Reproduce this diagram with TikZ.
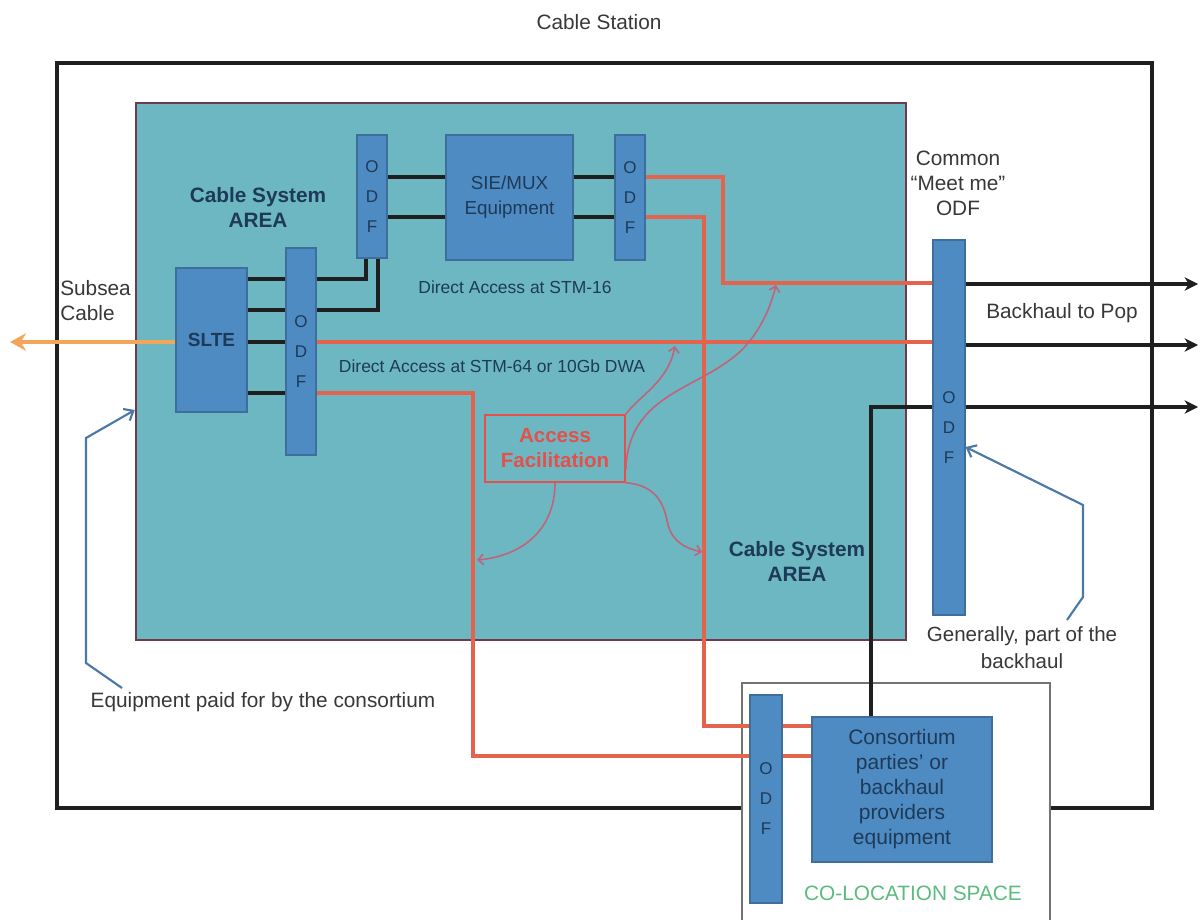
\documentclass[tikz,border=0pt]{standalone}
\usepackage{fontspec}
\setmainfont{Liberation Sans}
\usetikzlibrary{arrows.meta}
\definecolor{teal1}{HTML}{6DB7C3}
\definecolor{tealedge}{HTML}{6E3A4C}
\definecolor{boxblue}{HTML}{4E8BC2}
\definecolor{boxedge}{HTML}{3D6E9C}
\definecolor{navy}{HTML}{1E3A58}
\definecolor{redl}{HTML}{E4634C}
\definecolor{curvc}{HTML}{C0647A}
\definecolor{orng}{HTML}{F2A65A}
\definecolor{annob}{HTML}{4A78A8}
\definecolor{txtg}{HTML}{383838}
\definecolor{green1}{HTML}{5DBB7E}
\definecolor{afred}{HTML}{E4504A}
\begin{document}
\begin{tikzpicture}[x=0.75pt,y=-0.75pt,
  sz/.style 2 args={minimum width=#1*0.75pt,minimum height=#2*0.75pt},
  bluebox/.style={draw=boxedge,fill=boxblue,line width=0.9pt,inner sep=0pt,text=navy},
  odfbox/.style={bluebox,align=center,font=\fontsize{12.75}{22.5}\selectfont},
  blk/.style={draw=black!88,line width=2.8pt},
  redln/.style={draw=redl,line width=2.6pt},
  curv/.style={draw=curvc,line width=1.2pt,-{Straight Barb[length=4pt,width=8pt]}},
  anno/.style={draw=annob,line width=1.6pt,-{Straight Barb[length=6pt,width=10pt]}},
  outarr/.style={draw=black!88,line width=2.3pt,-{Stealth[length=10pt,width=10pt,inset=3pt]}},
  lbl/.style={text=txtg,align=center,inner sep=0pt,font=\fontsize{15.6}{18.75}\selectfont},
  arealbl/.style={text=navy,align=center,inner sep=0pt,font=\fontsize{15.6}{18.75}\selectfont\bfseries},
  smlbl/.style={text=navy,inner sep=0pt,font=\fontsize{13.1}{16}\selectfont}
]
\useasboundingbox (0,0) rectangle (1202,920);
\fill[white] (0,0) rectangle (1202,920);

% frames
\node[draw=black!88,line width=2.4pt,sz={1095}{745},inner sep=0pt] (station) at (604.5,435.5) {};
\node[draw=tealedge,fill=teal1,line width=1.8pt,sz={770}{537},inner sep=0pt] (area) at (521,371.5) {};
\node[draw=black!55,fill=white,line width=1pt,sz={308}{250},inner sep=0pt] (coloc) at (896,808) {};

% labels
\node[lbl] (title) at (599,22) {Cable Station};
\node[arealbl] (area1) at (258,207.5) {Cable System\\AREA};
\node[arealbl] (area2) at (797,561.5) {Cable System\\AREA};
\node[smlbl] (stm16) at (515,287) {Direct Access at STM-16};
\node[smlbl] (stm64) at (492,366) {Direct Access at STM-64 or 10Gb DWA};
\node[lbl] (meet) at (958,183) {Common\\“Meet me”\\ODF};
\node[lbl] (bh) at (1062,313) {Backhaul to Pop};
\node[lbl,font=\fontsize{15.4}{20.25}\selectfont] (gen) at (1022,648) {Generally, part of the\\backhaul};
\node[lbl] (paid) at (263,702) {Equipment paid for by the consortium};
\node[lbl,align=left,anchor=west] (subsea) at (60,300.5) {Subsea\\Cable};
\node[lbl,text=green1] (colocl) at (913,893) {CO-LOCATION SPACE};

% equipment
\node[bluebox,sz={71}{144},font=\fontsize{14.25}{17}\selectfont\bfseries] (slte) at (211.5,340) {SLTE};
\node[odfbox,sz={30}{207}] (odf1) at (301,351.5) {O\\D\\F};
\node[odfbox,sz={30}{123}] (odf2) at (372,196.5) {O\\D\\F};
\node[bluebox,sz={127}{125},align=center,font=\fontsize{14.1}{18.75}\selectfont] (sie) at (509.5,197.5) {SIE/MUX\\Equipment};
\node[odfbox,sz={30}{125}] (odf3) at (630,197.5) {O\\D\\F};
\node[draw=afred,line width=1.3pt,sz={140}{67},inner sep=0pt,align=center,text=afred,font=\fontsize{15.4}{18.75}\selectfont\bfseries] (af) at (555,448.5) {Access\\Facilitation};
\node[odfbox,sz={32}{375}] (codf) at (949,427.5) {O\\D\\F};
\node[odfbox,sz={32}{208}] (odf4) at (766,799) {O\\D\\F};
\node[bluebox,sz={180}{145},align=center,font=\fontsize{15.75}{18.75}\selectfont] (cons) at (902,789.5) {Consortium\\parties’ or\\backhaul\\providers\\equipment};

% black fibre links
\foreach \yy in {279,310,342,393} \draw[blk] (slte.east |- 0,\yy) -- (odf1.west |- 0,\yy);
\draw[blk] (odf1.east |- 0,279) -| (odf2.south -| 366,0);
\draw[blk] (odf1.east |- 0,310) -| (odf2.south -| 378,0);
\foreach \yy in {177,217} {
  \draw[blk] (odf2.east |- 0,\yy) -- (sie.west |- 0,\yy);
  \draw[blk] (sie.east |- 0,\yy) -- (odf3.west |- 0,\yy);
}
\draw[blk,line width=2.3pt] (cons.north -| 871,0) |- (codf.west |- 0,407);

% red access links
\draw[redln] (odf3.east |- 0,177) -| (723,283) -- (codf.west |- 0,283);
\draw[redln] (odf1.east |- 0,342) -- (codf.west |- 0,342);
\draw[redln] (odf3.east |- 0,217) -| (704,726) -- (odf4.west |- 0,726);
\draw[redln] (odf4.east |- 0,726) -- (cons.west |- 0,726);
\draw[redln] (odf1.east |- 0,393) -| (473,756) -- (odf4.west |- 0,756);
\draw[redln] (odf4.east |- 0,756) -- (cons.west |- 0,756);

% backhaul arrows
\coordinate (bh1) at (1198,284);
\coordinate (bh2) at (1198,345);
\coordinate (bh3) at (1198,407);
\draw[outarr] (codf.east |- bh1) -- (bh1);
\draw[outarr] (codf.east |- bh2) -- (bh2);
\draw[outarr] (codf.east |- bh3) -- (bh3);

% subsea cable
\coordinate (sea) at (10,342);
\draw[orng,line width=3.2pt,-{Stealth[length=12pt,width=13pt,inset=4pt]}] (slte.west |- sea) -- (sea);

% access facilitation curves
\draw[curv] (af.south -| 555,0) .. controls (555,530) and (522,556) .. (477,560);
\draw[curv] (af.north east) .. controls (640,395) and (668,382) .. (675,346);
\draw[curv] (af.east |- 0,470) .. controls (628,385) and (715,390) .. (752,338) .. controls (764,322) and (771,305) .. (776,285);
\draw[curv] (af.south east) .. controls (660,485) and (665,510) .. (668,525) .. controls (673,542) and (685,548) .. (702,552);

% annotation arrows
\coordinate (gstart) at (1067,620);
\draw[anno] (gstart) -- (1083,597) -- (1083,505) -- (codf.east |- 0,447);
\coordinate (pstart) at (122,688);
\draw[anno] (pstart) -- (86,663) -- (86,438) -- (area.west |- 0,410);
\end{tikzpicture}
\end{document}
